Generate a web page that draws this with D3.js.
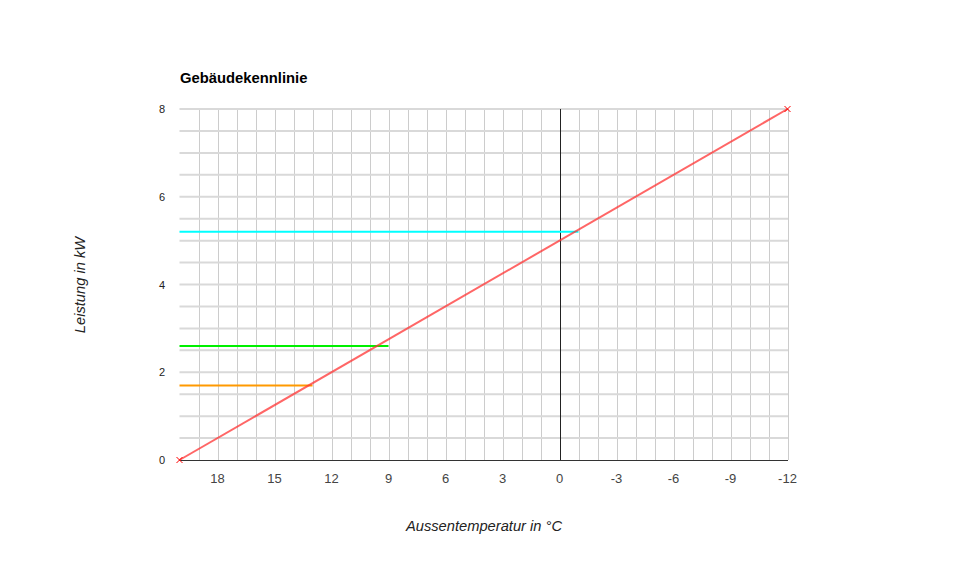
<!DOCTYPE html>
<html><head><meta charset="utf-8">
<script src="https://cdn.jsdelivr.net/npm/d3@7"></script>
<style>body{margin:0;background:#fff;} text{font-family:Arial,"Liberation Sans",sans-serif;}</style>
</head><body>
<svg id="c" width="967" height="569"></svg>
<script>
const title = "Gebäudekennlinie";
const xTitle = "Aussentemperatur in °C";
const yTitle = "Leistung in kW";
const xTicks = [18, 15, 12, 9, 6, 3, 0, -3, -6, -9, -12];
const yTicks = [0, 2, 4, 6, 8];
const xDomain = [20, -12];
const yDomain = [0, 8];
// Kennlinie
const curveX = [20, -12];
const curveY = [0, 8];
// horizontal reference lines: [value, fromTemp, toTemp]
const refNames = ["cyan", "green", "orange"];
const refValues = [5.2, 2.6, 1.7];
const refFrom = [20, 20, 20];
const refTo = [-1, 9, 13];
const refColors = ["#00ffff", "#00f000", "#ff9900"];
const zeroLineX = 0;

const svg = d3.select("#c");
const x = d3.scaleLinear().domain(xDomain).range([179.5, 787.5]);
const y = d3.scaleLinear().domain(yDomain).range([460, 109]);

const g = svg.append("g");
// vertical gridlines every 1 degree
g.selectAll("line.vg").data(d3.range(19, -13, -1)).enter().append("line")
  .attr("x1", d => Math.round(x(d)) + 0.5).attr("x2", d => Math.round(x(d)) + 0.5)
  .attr("y1", y(8)).attr("y2", y(0))
  .attr("stroke", "#cccccc").attr("stroke-width", 1);
// horizontal gridlines every 0.5
g.selectAll("line.hg").data(d3.range(0.5, 8.01, 0.5)).enter().append("line")
  .attr("x1", x(20)).attr("x2", x(-12) + 0.5)
  .attr("y1", d => y(d)).attr("y2", d => y(d))
  .attr("stroke", "#d9d9d9").attr("stroke-width", 2);

// zero vertical line
g.append("line").attr("x1", Math.round(x(zeroLineX)) + 0.5).attr("x2", Math.round(x(zeroLineX)) + 0.5)
  .attr("y1", y(8)).attr("y2", y(0)).attr("stroke", "#222").attr("stroke-width", 1);

// baseline
g.append("line").attr("x1", x(20)).attr("x2", x(-12) + 0.5).attr("y1", y(0) + 0.5).attr("y2", y(0) + 0.5)
  .attr("stroke", "#333").attr("stroke-width", 1);

// reference lines
refValues.forEach((v, i) => {
  g.append("line").attr("x1", x(refFrom[i])).attr("x2", x(refTo[i]))
    .attr("y1", y(v)).attr("y2", y(v))
    .attr("stroke", refColors[i]).attr("stroke-width", 2);
});

// curve
const pts = curveX.map((d, i) => [d, curveY[i]]);
g.append("path").attr("d", d3.line().x(d => x(d[0])).y(d => y(d[1]))(pts))
  .attr("fill", "none").attr("stroke", "#ff3333").attr("stroke-opacity", 0.75).attr("stroke-width", 2);
pts.forEach(p => {
  const cx = x(p[0]), cy = y(p[1]), s = 3;
  g.append("path").attr("d", `M${cx - s},${cy - s}L${cx + s},${cy + s}M${cx - s},${cy + s}L${cx + s},${cy - s}`)
    .attr("stroke", "#ff0000").attr("stroke-width", 1);
});

// tick labels
svg.selectAll("text.xt").data(xTicks).enter().append("text")
  .attr("x", d => x(d)).attr("y", 483).attr("text-anchor", "middle")
  .attr("font-size", 13).attr("fill", "#444").text(d => d);
svg.selectAll("text.yt").data(yTicks).enter().append("text")
  .attr("x", 165).attr("y", d => y(d) + 4).attr("text-anchor", "end")
  .attr("font-size", 11).attr("fill", "#222").text(d => d);

// titles
svg.append("text").attr("x", 180).attr("y", 83).attr("font-size", 14.8).attr("font-weight", "bold").attr("fill", "#000").text(title);
svg.append("text").attr("x", 484).attr("y", 531).attr("text-anchor", "middle").attr("font-size", 14.7)
  .attr("font-style", "italic").attr("fill", "#222").text(xTitle);
svg.append("text").attr("transform", "translate(85,285) rotate(-90)").attr("text-anchor", "middle").attr("font-size", 14.7)
  .attr("font-style", "italic").attr("fill", "#222").text(yTitle);
</script>
</body></html>
